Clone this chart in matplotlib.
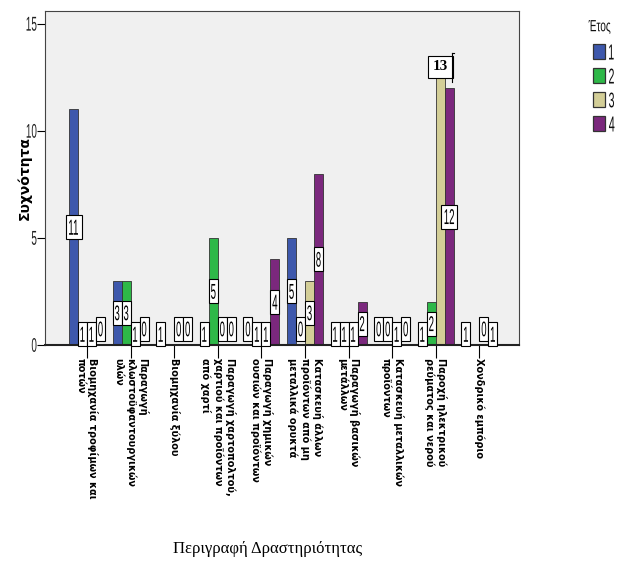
import numpy as np
import matplotlib
matplotlib.use("Agg")
import matplotlib.pyplot as plt
from matplotlib.patches import PathPatch, Rectangle
from matplotlib.textpath import TextPath
from matplotlib.font_manager import FontProperties
from matplotlib.transforms import Affine2D, ScaledTranslation

categories = [
    "Βιομηχανία τροφίμων και\nποτών",
    "Παραγωγή\nκλωστοϋφαντουργικών\nυλών",
    "Βιομηχανία ξύλου",
    "Παραγωγή χαρτοπολτού,\nχαρτιού και προϊόντων\nαπό χαρτί",
    "Παραγωγή χημικών\nουσιών και προϊόντων",
    "Κατασκευή άλλων\nπροϊόντων από μη\nμεταλλικά ορυκτά",
    "Παραγωγή βασικών\nμετάλλων",
    "Κατασκευή μεταλλικών\nπροϊόντων",
    "Παροχή ηλεκτρικού\nρεύματος και νερού",
    "Χονδρικό εμπόριο",
]
years = ["1", "2", "3", "4"]
year1 = [11, 3, 1, 1, 0, 5, 1, 0, 1, 1]
year2 = [1, 3, np.nan, 5, 1, 0, 1, 0, 2, np.nan]
year3 = [1, 1, 0, 0, 1, 3, 1, 1, 13, 0]
year4 = [0, 0, 0, 0, 4, 8, 2, 0, 12, 1]
series = [year1, year2, year3, year4]
colors = ["#3E58AC", "#2EB848", "#D3CE97", "#7B287D"]
yticks = [0, 5, 10, 15]

FP = FontProperties(family=["Liberation Sans", "DejaVu Sans"])

fig = plt.figure(figsize=(6.24, 5.62), dpi=100)
ax = fig.add_axes([45/624, 1-345/562, (519-45)/624, (345-11)/562])
ax.set_facecolor("#F0F0F0")


def stext(target, s, x, y, trans, height, aspect, ha="center", color="black", z=5, prop=FP):
    """Draw narrow/tall text (like the condensed reference font) as a path, height in px."""
    tp = TextPath((0, 0), s, size=1, prop=prop)
    bb = tp.get_extents()
    sy = height / bb.height
    sx = sy * aspect
    if ha == "center":
        ox = bb.x0 + bb.width / 2
    elif ha == "right":
        ox = bb.x1
    else:
        ox = bb.x0
    tr = Affine2D().translate(-ox, -(bb.y0 + bb.height / 2)).scale(sx, sy) + ScaledTranslation(x, y, trans)
    p = PathPatch(tp, transform=tr, fc=color, ec="none", zorder=z)
    p.set_clip_on(False)
    target.add_artist(p)


x = np.arange(len(categories))
w = 0.206
for j, (vals, col) in enumerate(zip(series, colors)):
    pos = x + (j - 1.5) * w
    v = np.array(vals, dtype=float)
    ax.bar(pos, np.nan_to_num(v), width=w, color=col, edgecolor="#333333", linewidth=0.6, zorder=2)
    for i, (p, val) in enumerate(zip(pos, v)):
        if np.isnan(val):
            continue
        if j == 2 and i == 8:
            ax.text(p, val, f"{int(val)}", ha="center", va="center", fontsize=11,
                    family=["Liberation Serif", "DejaVu Serif"], fontweight="bold", zorder=6,
                    bbox=dict(boxstyle="square,pad=0.3", fc="white", ec="black", lw=0.8))
            off = ScaledTranslation(p, val, ax.transData)
            ax.plot([11.5, 11.5], [-15, 14], color="black", lw=0.8, transform=off, zorder=7, clip_on=False)
            ax.plot([11.5, 14], [14, 14], color="black", lw=0.8, transform=off, zorder=7, clip_on=False)
            continue
        yc = val / 2 if val > 0 else 0.75
        s = f"{int(val)}"
        bw = 9 if len(s) == 1 else 16
        bh = 24
        off = ScaledTranslation(p, yc, ax.transData)
        r = Rectangle((-bw / 2, -bh / 2), bw, bh, transform=off, fc="white", ec="black", lw=0.8, zorder=4)
        r.set_clip_on(False)
        ax.add_artist(r)
        stext(ax, s, p, yc, ax.transData, 15, 0.45, z=5)

ax.set_xlim(-0.963, 9.908)
ax.set_ylim(0, 15.6)
ax.set_yticks(yticks)
ax.set_yticklabels([""] * len(yticks))
for t in yticks:
    stext(ax, str(t), -8.5 / 474, t, ax.get_yaxis_transform(), 14, 0.5, ha="right", color="#222222")
ax.set_xticks(x)
ax.set_xticklabels(categories, rotation=270, ha="center", va="top", multialignment="left",
                   fontsize=7, fontweight="bold", family=["DejaVu Sans"])
ax.tick_params(axis="x", direction="out", length=9, width=0.8, pad=0)
ax.tick_params(axis="y", direction="out", length=5.5, width=0.8, pad=2)
for sp in ["left", "top", "right"]:
    ax.spines[sp].set_linewidth(0.8)
    ax.spines[sp].set_color("#444444")
ax.spines["bottom"].set_linewidth(1.5)
ax.spines["bottom"].set_color("#222222")

ax.set_ylabel("Συχνότητα", fontsize=10, fontweight="bold", va="center")
ax.yaxis.set_label_coords(-20 / 474, 0.5)

fig.text(268/624, 1-549/562, "Περιγραφή Δραστηριότητας", ha="center", va="center",
         fontsize=12, family=["Liberation Serif", "DejaVu Serif"])

# legend (drawn in figure pixel coordinates)
H = 562.0
stext(fig, "Έτος", 599.5 / 624, 1 - 27 / H, fig.transFigure, 14, 0.62, color="#111111")
for k, (lab, col) in enumerate(zip(years, colors)):
    ytop = 44 + k * 24
    r = Rectangle((593 / 624, 1 - (ytop + 15) / H), 12 / 624, 15 / H, transform=fig.transFigure,
                  fc=col, ec="#333333", lw=0.9)
    fig.add_artist(r)
    stext(fig, lab, 609 / 624, 1 - (ytop + 8) / H, fig.transFigure, 15, 0.5, ha="left", color="#111111")

fig.savefig("out.png", dpi=100)
